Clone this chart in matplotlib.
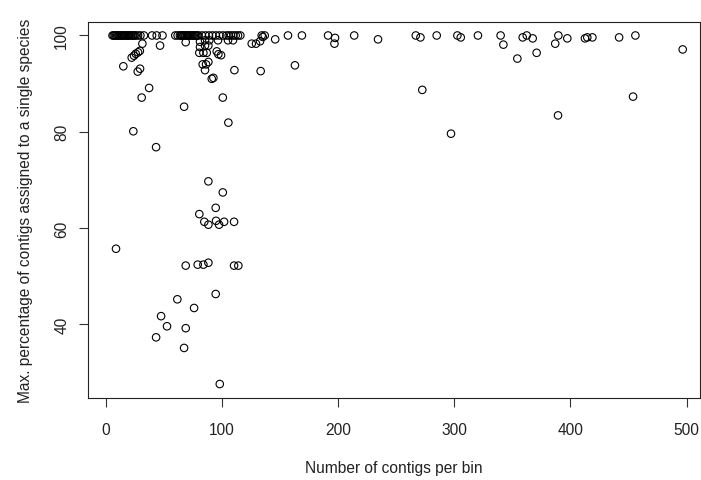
import numpy as np
import matplotlib
matplotlib.use("Agg")
import matplotlib.pyplot as plt

# bins sitting at (or right at) 100 %
top_x = [6, 7, 8, 9, 10, 11, 12, 13, 14, 15, 16, 17, 18, 19, 20, 21, 22, 23, 24,
         25, 26, 28, 30, 33, 40, 44, 49,
         60, 62, 64, 65, 66, 67, 68, 69, 70, 71, 72, 73, 74, 75, 76, 77, 78, 79, 80,
         83, 86, 89, 92, 95, 98, 101, 104, 106, 108, 110, 112, 114, 116,
         134.4, 137, 157, 169, 191.5, 214, 267, 285, 302.8, 320.5, 340, 362.5,
         389.7, 456]
top_y = [100] * len(top_x)

# bins just below 100 %
near_x = [146, 197.5, 197, 234.5, 271, 305.7, 342.4, 359, 367.6, 387, 397.4,
          412.6, 414.6, 419, 442, 125.8, 129.5, 133, 135.3, 96.8, 105.4, 109.7,
          31.7, 46.9, 69, 81.3, 85.6, 89.3, 85.6, 88.5, 81.3]
near_y = [99.2, 99.5, 98.3, 99.2, 99.6, 99.6, 98.1, 99.6, 99.4, 98.3, 99.4,
          99.4, 99.6, 99.6, 99.6, 98.3, 98.3, 98.8, 99.7, 99.0, 99.0, 99.0,
          98.3, 97.9, 98.6, 98.7, 99.0, 99.0, 97.9, 97.9, 97.6]

# the rest of the bins
rest_x = [22.5, 24.5, 26, 28, 29.5, 15.3, 27.7, 29.7, 37.5, 31.1, 67.6, 100.9,
          110.9, 133.5, 23.9, 105.7, 43.5,
          84.2, 87.1, 80.7, 95.7, 97.1, 99.4, 88.5, 86.5, 83.6, 85.6, 91.4, 92.8,
          163, 272.6, 297.3, 354.4, 371, 496.7, 454, 389.4,
          88.5, 100.9, 94.8, 80.7, 85, 88.5, 95.1, 97.7, 102, 110.6,
          9, 69, 79.3, 84.2, 88.5, 110.6, 114.3,
          94.8, 61.8, 76.2, 47.8, 52.9, 69, 43.5, 67.6, 98.3]
rest_y = [95.4, 95.8, 96.2, 96.5, 96.8, 93.6, 92.5, 93.1, 89.1, 87.1, 85.2, 87.1,
          92.8, 92.6, 80.1, 81.9, 76.8,
          96.4, 96.4, 96.4, 96.7, 96.1, 95.9, 94.5, 94.0, 94.0, 92.8, 91.0, 91.2,
          93.8, 88.7, 79.6, 95.2, 96.4, 97.1, 87.3, 83.4,
          69.7, 67.4, 64.2, 62.9, 61.3, 60.7, 61.5, 60.7, 61.3, 61.3,
          55.7, 52.2, 52.4, 52.4, 52.8, 52.2, 52.2,
          46.3, 45.2, 43.4, 41.7, 39.6, 39.2, 37.3, 35.1, 27.6]

contigs = np.array(top_x + near_x + rest_x)
max_pct = np.array(top_y + near_y + rest_y)

x_ticks = [0, 100, 200, 300, 400, 500]
y_ticks = [40, 60, 80, 100]

plt.rcParams['font.family'] = ['Liberation Sans', 'DejaVu Sans']

W, H = 701, 481
fig = plt.figure(figsize=(W / 100, H / 100), dpi=100)
ax = fig.add_axes([88 / W, (H - 399) / H, (700 - 88) / W, (399 - 23) / H])

ax.scatter(contigs, max_pct, s=29, facecolors='none', edgecolors='black',
           linewidths=0.8)

ax.set_xlim(-15.1, 511.6)
ax.set_ylim(24.7, 102.8)
ax.set_xticks(x_ticks)
ax.set_yticks(y_ticks)
ax.tick_params(axis='both', length=6.5, width=0.8, labelsize=11.2,
               color='#333333', labelcolor='#222222')
ax.tick_params(axis='x', pad=11)
ax.tick_params(axis='y', pad=7)
for lab in ax.get_yticklabels():
    lab.set_rotation(90)
    lab.set_va('center')
for sp in ax.spines.values():
    sp.set_linewidth(0.8)
    sp.set_color('#222222')

ax.set_xlabel("Number of contigs per bin", fontsize=11.2, labelpad=16,
              color='#222222')
ax.set_ylabel("Max. percentage of contigs assigned to a single species",
              fontsize=11.2, labelpad=15, color='#222222')

fig.savefig("out.png", dpi=100)
